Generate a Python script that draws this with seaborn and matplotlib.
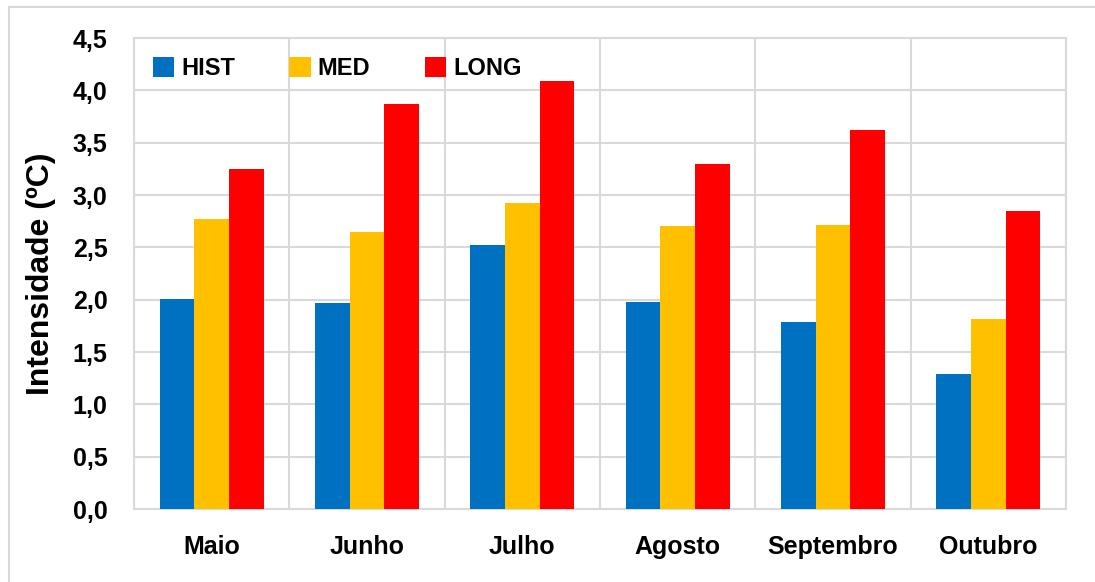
import numpy as np
import pandas as pd
import matplotlib
matplotlib.use("Agg")
import matplotlib.pyplot as plt
import seaborn as sns

# -----------------------------
# Data
# -----------------------------
meses = ["Maio", "Junho", "Julho", "Agosto", "Septembro", "Outubro"]
hist = [2.01, 1.97, 2.52, 1.98, 1.79, 1.29]
med = [2.77, 2.65, 2.92, 2.70, 2.71, 1.82]
long_ = [3.25, 3.87, 4.09, 3.30, 3.62, 2.85]
series = ["HIST", "MED", "LONG"]
cores = ["#0070C0", "#FFC000", "#FF0000"]

df = pd.DataFrame({"mes": meses * 3,
                   "serie": np.repeat(series, len(meses)),
                   "valor": hist + med + long_})

# -----------------------------
# Plot
# -----------------------------
sns.set_theme(style="white")
plt.rcParams['font.family'] = ['Liberation Sans', 'DejaVu Sans']
plt.rcParams['text.color'] = 'black'
grid_c = "#d9d9d9"

fig = plt.figure(figsize=(10.95, 5.82), dpi=100)
ax = fig.add_axes([0.1224, 0.1254, 0.8511, 0.8093])

sns.barplot(data=df, x="mes", y="valor", hue="serie", hue_order=series,
            palette=cores, width=0.67, saturation=1, linewidth=0,
            ax=ax, zorder=3)

ax.set_ylim(0, 4.5)
ax.set_xlim(-0.5, len(meses) - 0.5)
yt = np.arange(0, 4.51, 0.5)
ax.set_yticks(yt)
ax.set_yticklabels([f"{v:.1f}".replace(".", ",") for v in yt],
                   fontsize=18, fontweight="bold")
ax.set_xticks(range(len(meses)))
ax.set_xticklabels(meses, fontsize=18, fontweight="bold")
ax.set_xticks(np.arange(-0.5, len(meses)), minor=True)
ax.tick_params(axis="both", which="both", length=0, colors="black")
ax.tick_params(axis="y", pad=19)
ax.tick_params(axis="x", pad=19)

ax.grid(axis="y", which="major", color=grid_c, linewidth=1.5, zorder=0)
ax.grid(axis="x", which="minor", color=grid_c, linewidth=1.5, zorder=0)
for s in ax.spines.values():
    s.set_color(grid_c)
    s.set_linewidth(1.5)

ax.set_xlabel("")
ax.set_ylabel("Intensidade (ºC)", fontsize=23, fontweight="bold",
              labelpad=12, color="black")

leg = ax.legend(loc="upper left", ncol=3, frameon=False, handlelength=0.9,
                handleheight=0.9, handletextpad=0.3, columnspacing=2.3,
                prop={"weight": "bold", "size": 17},
                bbox_to_anchor=(0.0, 1.0), borderaxespad=0.4)
for t in leg.get_texts():
    t.set_color("black")

# outer chart border
fig.patches.append(plt.Rectangle((0.008, -0.01), 1.1, 0.998, transform=fig.transFigure,
                                 fill=False, edgecolor=grid_c, linewidth=1.5))

fig.savefig("out.png", dpi=100)
